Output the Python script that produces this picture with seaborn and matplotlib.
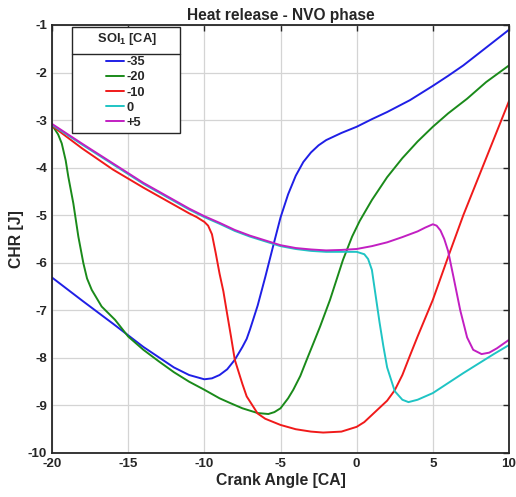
import numpy as np
import pandas as pd
import seaborn as sns
import matplotlib
matplotlib.use("Agg")
import matplotlib.pyplot as plt
from matplotlib.lines import Line2D

# ---- data ----
soi_labels = ["-35", "-20", "-10", "0", "+5"]

x_m35 = [-20, -18, -16, -14, -12, -11, -10, -9.5, -9, -8.5, -8, -7.5, -7.22, -7, -6.5, -6,
         -5.5, -5, -4.5, -4, -3.5, -3, -2.5, -2, -1, 0, 1, 2, 3.5, 5, 6, 7, 8, 9, 10]
y_m35 = [-6.31, -6.8, -7.28, -7.77, -8.2, -8.36, -8.45, -8.43, -8.36, -8.24, -8.04, -7.77, -7.6, -7.4,
         -6.9, -6.3, -5.67, -5.05, -4.56, -4.17, -3.88, -3.68, -3.53, -3.42, -3.27, -3.14, -2.98,
         -2.83, -2.58, -2.28, -2.07, -1.85, -1.6, -1.35, -1.1]

x_m20 = [-20, -19.6, -19.36, -19.1, -18.93, -18.6, -18.27, -17.94, -17.7, -17.39, -16.74, -15.86,
         -15, -14, -13, -12, -11, -10, -9, -8.3, -7.5, -6.5, -5.8, -5.4, -5, -4.5, -4.16, -3.7,
         -3.28, -2.8, -2.4, -1.75, -0.9, -0.3, 0.2, 1, 2, 3, 4, 5, 6, 7.25, 8.5, 10]
y_m20 = [-3.1, -3.3, -3.49, -3.85, -4.19, -4.75, -5.45, -6.01, -6.33, -6.57, -6.92, -7.2,
         -7.55, -7.83, -8.07, -8.3, -8.5, -8.67, -8.85, -8.95, -9.06, -9.16, -9.18, -9.14, -9.06,
         -8.85, -8.67, -8.38, -8.04, -7.66, -7.34, -6.78, -5.94, -5.45, -5.12, -4.68, -4.2, -3.8,
         -3.45, -3.14, -2.86, -2.55, -2.2, -1.85]

x_m10 = [-20, -18, -16, -14, -12, -11, -10.5, -10, -9.75, -9.5, -9.25, -9, -8.75, -8.5, -8.25, -8,
         -7.5, -7.22, -7, -6.5, -6, -5, -4, -3, -2.2, -1, 0, 0.5, 1, 1.5, 2, 2.5, 3, 3.5, 4, 5,
         6, 7, 8, 9, 10]
y_m10 = [-3.12, -3.6, -4.04, -4.42, -4.78, -4.96, -5.04, -5.14, -5.22, -5.4, -5.8, -6.23, -6.6,
         -7.08, -7.55, -8.04, -8.55, -8.81, -8.92, -9.17, -9.28, -9.41, -9.5, -9.55, -9.57, -9.55,
         -9.45, -9.35, -9.2, -9.05, -8.9, -8.68, -8.36, -7.95, -7.55, -6.78, -5.88, -5.0, -4.2,
         -3.4, -2.6]

x_0 = [-20, -18, -16, -14, -12, -11, -10, -9, -8, -7, -6, -5, -4, -3, -2, -1, 0, 0.5, 0.75, 1,
       1.25, 1.5, 1.75, 2, 2.5, 3, 3.4, 4, 5, 6, 7, 8, 9, 10]
y_0 = [-3.1, -3.52, -3.93, -4.34, -4.7, -4.88, -5.04, -5.18, -5.33, -5.45, -5.55, -5.65, -5.71,
       -5.75, -5.77, -5.77, -5.77, -5.82, -5.92, -6.15, -6.7, -7.25, -7.75, -8.2, -8.7, -8.88,
       -8.93, -8.88, -8.74, -8.53, -8.32, -8.12, -7.92, -7.73]

x_p5 = [-20, -18, -16, -14, -12, -11, -10, -9, -8, -7, -6, -5, -4, -3, -2, -1, 0, 1, 2, 3, 4,
        4.5, 5, 5.25, 5.5, 5.75, 6, 6.35, 6.8, 7.25, 7.65, 8.2, 8.7, 9.2, 10]
y_p5 = [-3.08, -3.5, -3.91, -4.32, -4.68, -4.86, -5.02, -5.16, -5.31, -5.43, -5.53, -5.63, -5.69,
        -5.72, -5.74, -5.73, -5.71, -5.65, -5.57, -5.46, -5.34, -5.26, -5.19, -5.22, -5.32, -5.5,
        -5.75, -6.29, -7.0, -7.57, -7.83, -7.92, -7.89, -7.8, -7.62]

xs = [x_m35, x_m20, x_m10, x_0, x_p5]
ys = [y_m35, y_m20, y_m10, y_0, y_p5]
colors = ["#1f1fe6", "#1a8a1a", "#f01a1a", "#1fc4c4", "#c21fc2"]

x_ticks = [-20, -15, -10, -5, 0, 5, 10]
y_ticks = [-10, -9, -8, -7, -6, -5, -4, -3, -2, -1]

frames = []
for lab, xv, yv in zip(soi_labels, xs, ys):
    frames.append(pd.DataFrame({"CA": xv, "CHR": yv, "SOI": lab}))
df = pd.concat(frames, ignore_index=True)

# ---- style ----
sns.set_theme(style="white")
plt.rcParams["font.family"] = ["Liberation Sans", "DejaVu Sans"]
plt.rcParams["mathtext.fontset"] = "custom"
plt.rcParams["mathtext.rm"] = "Liberation Sans:bold"
plt.rcParams["mathtext.bf"] = "Liberation Sans:bold"
plt.rcParams["mathtext.default"] = "bf"

fig = plt.figure(figsize=(5.16, 4.97), dpi=100)
ax = fig.add_axes([52 / 516, 1 - 453 / 497, 457 / 516, 428 / 497])

sns.lineplot(data=df, x="CA", y="CHR", hue="SOI", hue_order=soi_labels,
             palette=dict(zip(soi_labels, colors)), estimator=None, sort=False,
             linewidth=1.4, ax=ax)

ax.set_xlim(-20, 10)
ax.set_ylim(-10, -1)
ax.set_xticks(x_ticks)
ax.set_yticks(y_ticks)
ax.set_xticklabels([str(t) for t in x_ticks])
ax.set_yticklabels([str(t) for t in y_ticks])
ax.grid(True, color="#d4d4d4", linewidth=0.9)
ax.set_axisbelow(True)
for s in ax.spines.values():
    s.set_color("#262626")
    s.set_linewidth(1.3)
ax.tick_params(direction="in", length=4, width=1.0, color="#262626",
               top=True, right=True, labelsize=9.6, pad=3.5)
for lbl in ax.get_xticklabels() + ax.get_yticklabels():
    lbl.set_fontweight("bold")
    lbl.set_color("#262626")

ax.set_xlabel("Crank Angle [CA]", fontsize=11.3, fontweight="bold", color="#262626", labelpad=2)
ax.set_ylabel("CHR [J]", fontsize=11.3, fontweight="bold", color="#262626", labelpad=3)
ax.set_title("Heat release - NVO phase", fontsize=11.2, fontweight="bold", color="#262626", pad=3.5)

handles, labels = ax.get_legend_handles_labels()
leg = ax.legend(handles, labels, title="      SOI$_1$ [CA]      ", loc="upper left",
                bbox_to_anchor=(20 / 457, 1 - 2 / 428), borderaxespad=0,
                fontsize=9.3, title_fontsize=9.3, frameon=True, fancybox=False,
                framealpha=1, edgecolor="#262626", alignment="center",
                handlelength=1.35, handletextpad=0.25, labelspacing=0.24,
                borderpad=0.3)
leg.get_frame().set_linewidth(1.0)
leg.get_title().set_fontweight("bold")
for t in leg.get_texts():
    t.set_fontweight("bold")
for l in leg.get_lines():
    l.set_linewidth(1.4)
# a bit more room between the legend title and its entries
leg._legend_box.sep = leg._legend_box.sep + 4.5

fig.canvas.draw()
r = fig.canvas.get_renderer()
fb = leg.get_frame().get_window_extent(r)
entries_top = max(t.get_window_extent(r).y1 for t in leg.get_texts())
ysep = entries_top + 2.5
inv = fig.transFigure.inverted()
(x0f, yf) = inv.transform((fb.x0, ysep))
(x1f, _) = inv.transform((fb.x1, ysep))
fig.add_artist(Line2D([x0f, x1f], [yf, yf], transform=fig.transFigure,
                      color="#262626", linewidth=1.0, zorder=10))

fig.savefig("out.png", dpi=100, facecolor="white")
